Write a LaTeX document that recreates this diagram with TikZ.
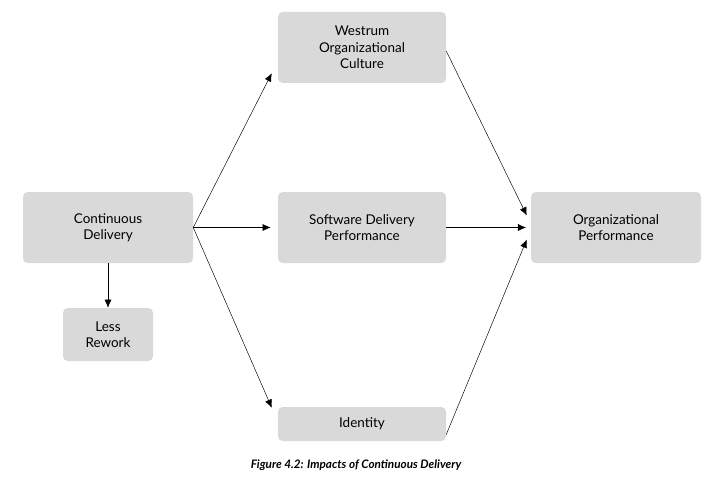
\documentclass[tikz,border=0pt]{standalone}
\usepackage{fontspec}
\setmainfont{Lato}
\usetikzlibrary{arrows.meta}
\begin{document}
\begin{tikzpicture}[x=0.03cm,y=-0.03cm,
  box/.style={fill=black!15,rounded corners=4pt,align=center,font=\fontsize{11.5}{14}\selectfont,inner sep=0pt},
  arr/.style={-{Latex[length=7pt,width=6pt]},thin}]
 \useasboundingbox (0,0) rectangle (713,483);

 \node[box,minimum width=170*0.03cm,minimum height=71*0.03cm] (cd) at (108,227.5) {Continuous\\Delivery};
 \node[box,minimum width=90*0.03cm,minimum height=53*0.03cm] (lr) at (108,334.5) {Less\\Rework};
 \node[box,minimum width=168*0.03cm,minimum height=71*0.03cm] (wc) at (362,47.5) {Westrum\\Organizational\\Culture};
 \node[box,minimum width=168*0.03cm,minimum height=71*0.03cm] (sdp) at (362,227.5) {Software Delivery\\Performance};
 \node[box,minimum width=168*0.03cm,minimum height=34*0.03cm] (id) at (362,424) {Identity};
 \node[box,minimum width=170*0.03cm,minimum height=71*0.03cm] (op) at (616,227.5) {Organizational\\Performance};
 \node[font=\bfseries\itshape\fontsize{10}{12}\selectfont] (cap) at (356,465) {Figure 4.2: Impacts of Continuous Delivery};

 % connectors
 \draw[arr] (cd.south) -- (lr.north);
 \draw[arr] (cd.east) -- ([shift={(-6,-10)}]wc.south west);
 \draw[arr] (cd.east) -- ([xshift=-6pt]sdp.west);
 \draw[arr] (cd.east) -- ([shift={(-6,1)}]id.north west);
 \draw[arr] ([yshift=-3]wc.east) -- ([shift={(-4,-12)}]op.west);
 \draw[arr] (sdp.east) -- ([xshift=-4]op.west);
 \draw[arr] ([yshift=-9]id.east) -- ([shift={(-4,12)}]op.west);
\end{tikzpicture}
\end{document}
